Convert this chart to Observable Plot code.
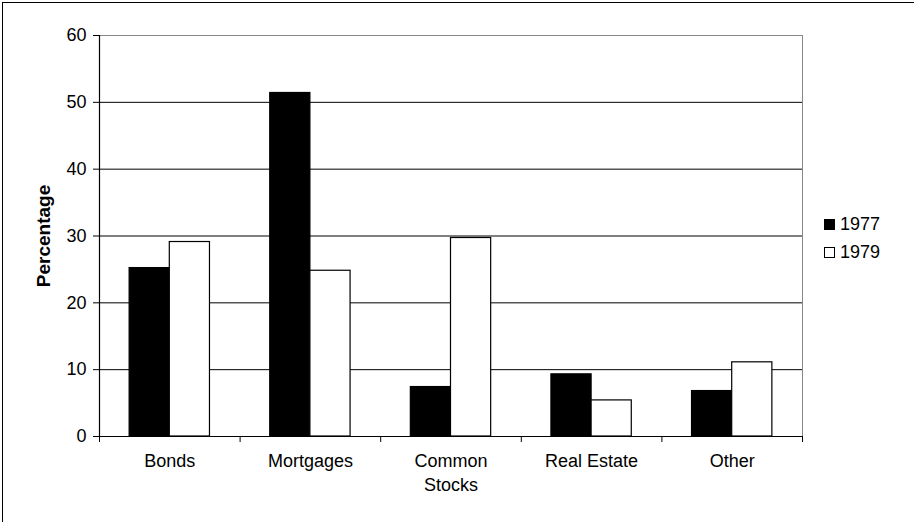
<!DOCTYPE html>
<html>
<head>
<meta charset="utf-8">
<script src="https://cdn.jsdelivr.net/npm/d3@7"></script>
<script src="https://cdn.jsdelivr.net/npm/@observablehq/plot@0.6"></script>
<style>
  html, body { margin: 0; padding: 0; background: #fff; overflow: hidden; }
  #wrap { position: relative; width: 914px; height: 522px; overflow: hidden; font-family: "Liberation Sans", Arial, sans-serif; }
  #chart svg { display: block; }
  .bline { position: absolute; background: #000; pointer-events: none; }
  #legend { position: absolute; left: 824px; top: 210px; font-size: 18px; color: #000; }
  #legend .row { display: flex; align-items: center; height: 28px; }
  #legend .sw { width: 9px; height: 9px; border: 1px solid #000; margin-right: 5px; box-sizing: content-box; }
</style>
</head>
<body>
<div id="wrap">
  <div id="chart"></div>
  <div id="legend"></div>
  <div class="bline" style="left:2px;top:2px;width:1px;height:520px;"></div>
  <div class="bline" style="left:2px;top:2px;width:912px;height:1px;"></div>
</div>
<script>
const categories = ["Bonds", "Mortgages", "Common\nStocks", "Real Estate", "Other"];
const years = ["1977", "1979"];
const values1977 = [25.2, 51.4, 7.4, 9.3, 6.8];
const values1979 = [29.1, 24.8, 29.7, 5.4, 11.1];
const yTicks = [0, 10, 20, 30, 40, 50, 60];
const yearFills = {"1977": "#000000", "1979": "#ffffff"};

const rows = [];
categories.forEach((c, i) => {
  rows.push({cat: c, idx: i, year: "1977", value: values1977[i]});
  rows.push({cat: c, idx: i, year: "1979", value: values1979[i]});
});

// Excel-like grouping: gap width 150% of a bar
const barFrac = 1 / 3.5;
const outer = 0.75 / 3.5;
const x1Of = d => d.idx + outer + years.indexOf(d.year) * barFrac;
const x2Of = d => x1Of(d) + barFrac;

const chart = Plot.plot({
  width: 914,
  height: 522,
  marginLeft: 99,
  marginRight: 112,
  marginTop: 35,
  marginBottom: 86,
  style: {fontFamily: "'Liberation Sans', Arial, sans-serif", fontSize: "18px", color: "#000", background: "transparent"},
  x: {domain: [0, categories.length], label: null},
  y: {domain: [0, 60], label: "Percentage"},
  marks: [
    Plot.ruleY(yTicks.filter(t => t > 0 && t < 60), {stroke: "#000", strokeWidth: 1}),
    Plot.ruleY([60], {stroke: "#888", strokeWidth: 1}),
    Plot.ruleX([categories.length], {stroke: "#888", strokeWidth: 1}),
    Plot.rectY(rows, {x1: x1Of, x2: x2Of, y1: 0, y2: "value", fill: d => yearFills[d.year], stroke: "#000", strokeWidth: 1.2}),
    Plot.ruleY([0], {stroke: "#000", strokeWidth: 1.2}),
    Plot.ruleX([0], {stroke: "#000", strokeWidth: 1.2}),
    Plot.axisY({ticks: yTicks, tickSize: 6, tickPadding: 7, fontSize: 18, label: "Percentage", labelAnchor: "center", labelArrow: "none", labelOffset: 63}),
    Plot.axisX({ticks: d3.range(categories.length + 1), tickFormat: () => "", tickSize: 6, label: null}),
    Plot.text(categories, {x: (d, i) => i + 0.5, frameAnchor: "bottom", dy: 14, lineAnchor: "top", lineHeight: 1.3, fontSize: 18, fill: "#000"})
  ]
});
document.getElementById("chart").appendChild(chart);
// bold axis label
chart.querySelectorAll("g[aria-label='y-axis label'] text").forEach(t => { t.setAttribute("font-weight", "bold"); t.setAttribute("font-size", "19"); });

const legend = document.getElementById("legend");
years.forEach(y => {
  const row = document.createElement("div");
  row.className = "row";
  const sw = document.createElement("span");
  sw.className = "sw";
  sw.style.background = yearFills[y];
  const lab = document.createElement("span");
  lab.textContent = y;
  row.appendChild(sw); row.appendChild(lab);
  legend.appendChild(row);
});
</script>
</body>
</html>
